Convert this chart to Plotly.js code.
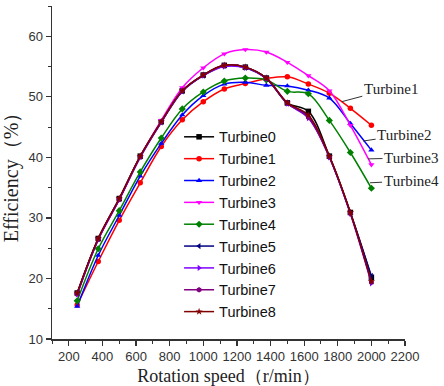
<!DOCTYPE html>
<html>
<head>
<meta charset="utf-8">
<script src="https://cdn.plot.ly/plotly-3.0.1.min.js"></script>
<style>html,body{margin:0;padding:0;background:#fff;}#chart{width:444px;height:386px;}</style>
</head>
<body>
<div id="chart"></div>
<script>
const speed = [250, 375, 500, 625, 750, 875, 1000, 1125, 1250, 1375, 1500, 1625, 1750, 1875, 2000];
const turbine0 = [17.6, 26.6, 33.2, 40.2, 45.9, 51.0, 53.6, 55.2, 54.9, 53.1, 49.0, 47.6, 40.2, 30.9, 20.2];
const turbine1 = [15.6, 22.8, 29.6, 35.8, 41.8, 46.2, 49.2, 51.3, 52.2, 53.0, 53.3, 52.1, 50.6, 48.1, 45.3];
const turbine2 = [15.4, 23.8, 30.4, 36.9, 42.3, 47.0, 50.2, 52.1, 52.4, 51.9, 51.8, 51.1, 49.8, 45.6, 41.2];
const turbine3 = [17.3, 26.4, 33.0, 40.1, 46.1, 51.5, 54.8, 57.1, 57.8, 57.4, 55.7, 53.5, 51.0, 45.3, 38.8];
const turbine4 = [16.3, 24.9, 31.2, 37.6, 43.2, 48.0, 50.8, 52.6, 53.1, 52.8, 50.9, 50.5, 46.1, 40.8, 34.9];
const turbine5 = [17.5, 26.5, 33.1, 40.1, 45.8, 50.9, 53.5, 55.1, 54.8, 53.0, 48.9, 46.8, 40.1, 30.8, 20.4];
const turbine6 = [17.4, 26.4, 33.0, 40.0, 45.8, 50.9, 53.5, 55.0, 54.8, 53.0, 48.9, 46.5, 40.0, 30.7, 19.2];
const turbine7 = [17.5, 26.5, 33.1, 40.1, 45.9, 51.0, 53.6, 55.2, 54.9, 53.1, 49.0, 46.6, 40.1, 30.8, 19.4];
const turbine8 = [17.6, 26.6, 33.2, 40.2, 45.9, 51.0, 53.6, 55.2, 54.9, 53.1, 49.0, 47.0, 40.2, 30.9, 19.5];

const names = ['Turbine0','Turbine1','Turbine2','Turbine3','Turbine4','Turbine5','Turbine6','Turbine7','Turbine8'];
const series = [turbine0, turbine1, turbine2, turbine3, turbine4, turbine5, turbine6, turbine7, turbine8];
const colors = ['#000000','#ff0000','#0000ff','#ff00ff','#008000','#000080','#8000ff','#800080','#800000'];
const symbols = ['square','circle','triangle-up','triangle-down','diamond','triangle-left','triangle-right','hexagon','star'];

const labelNames = ['Turbine1','Turbine2','Turbine3','Turbine4'];
const labelX = [1824, 1951, 1980, 1992];
const labelY = [49.2, 42.7, 39.75, 35.8];
const labelAx = [49, 41, 43, 41];
const labelAy = [-13, -6, -1, -2];

const traces = series.map((s, i) => ({
  x: speed, y: s, name: names[i], type: 'scatter', mode: 'lines+markers',
  line: {color: colors[i], width: 1.5, shape: 'spline', smoothing: 1},
  marker: {color: colors[i], symbol: symbols[i], size: 5.5}
}));

const annotations = labelNames.map((t, i) => ({
  x: labelX[i], y: labelY[i], xref: 'x', yref: 'y', text: t,
  showarrow: true, arrowhead: 0, arrowwidth: 1, arrowcolor: '#333',
  ax: labelAx[i], ay: labelAy[i],
  font: {family: 'Liberation Serif, Times New Roman, serif', size: 15, color: '#222'}
}));

const layout = {
  width: 444, height: 386,
  margin: {l: 52, r: 39, t: 6, b: 47},
  paper_bgcolor: '#fff', plot_bgcolor: '#fff',
  showlegend: true,
  legend: {x: 0.36, y: 0.655, xanchor: 'left', yanchor: 'top', bgcolor: 'rgba(0,0,0,0)',
    font: {family: 'Liberation Sans, Arial, sans-serif', size: 14.5, color: '#111'}, tracegroupgap: 0, itemwidth: 30},
  xaxis: {
    range: [100, 2200], showgrid: false, zeroline: false,
    showline: true, linecolor: '#333', linewidth: 1.5, mirror: false,
    ticks: 'outside', ticklen: 5, tickwidth: 1.2, tickcolor: '#333',
    tick0: 200, dtick: 200,
    minor: {ticks: 'outside', ticklen: 3, tickwidth: 1, tickcolor: '#333', dtick: 100, tick0: 100},
    tickfont: {family: 'Liberation Sans Narrow, Arial Narrow, Arial, sans-serif', size: 13, color: '#333'},
    title: {text: 'Rotation speed（r/min）', font: {family: 'Liberation Serif, Times New Roman, serif', size: 18, color: '#222'}, standoff: 6}
  },
  yaxis: {
    range: [10, 65], showgrid: false, zeroline: false,
    showline: true, linecolor: '#333', linewidth: 1.5,
    ticks: 'outside', ticklen: 5, tickwidth: 1.2, tickcolor: '#333',
    tick0: 10, dtick: 10,
    minor: {ticks: 'outside', ticklen: 3, tickwidth: 1, tickcolor: '#333', dtick: 5, tick0: 5},
    tickfont: {family: 'Liberation Sans Narrow, Arial Narrow, Arial, sans-serif', size: 13, color: '#333'},
    title: {text: 'Efficiency（%）', font: {family: 'Liberation Serif, Times New Roman, serif', size: 20, color: '#222'}, standoff: 6}
  },
  annotations: annotations
};

Plotly.newPlot('chart', traces, layout, {displayModeBar: false, staticPlot: true});
</script>
</body>
</html>
